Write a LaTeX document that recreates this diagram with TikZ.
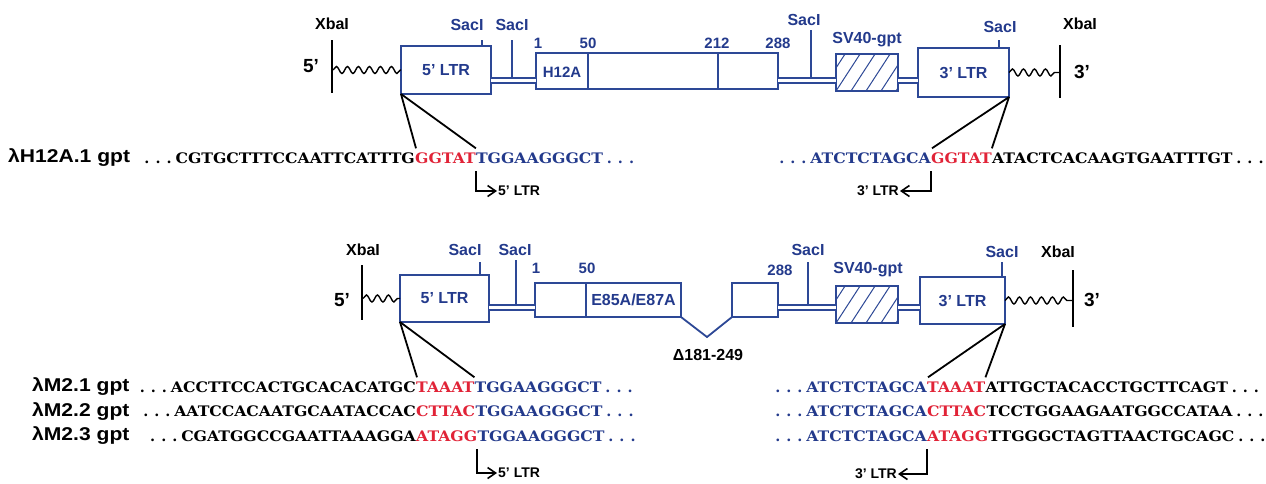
\documentclass[tikz,border=0pt]{standalone}
\usepackage{graphicx}
\usepackage{fontspec}
\setmainfont{Liberation Sans}
\newfontfamily\seqfont{DejaVu Serif}
\usetikzlibrary{calc,decorations.pathmorphing,arrows.meta}
\definecolor{navy}{RGB}{35,58,140}
\definecolor{boxblue}{RGB}{45,72,150}
\definecolor{seqred}{RGB}{225,35,55}
\newcommand{\sqt}[1]{\scalebox{1.08}[1]{#1}}
\newcommand{\rlt}[1]{\scalebox{1.14}[1]{#1}}
\newcommand{\lddots}{.\kern6pt.\kern6pt.\kern3.5pt}
\newcommand{\tddots}{\kern3.5pt.\kern6pt.\kern6pt.}
\begin{document}
\begin{tikzpicture}[x=1pt,y=-1pt,
  lab/.style={font=\bfseries\fontsize{16}{16}\selectfont, text=navy, inner sep=0pt},
  numlab/.style={font=\bfseries\fontsize{15}{15}\selectfont, text=navy, inner sep=0pt},
  endlab/.style={font=\bfseries\fontsize{19}{19}\selectfont, inner sep=0pt},
  rowlab/.style={font=\bfseries\fontsize{18.5}{18.5}\selectfont, inner sep=0pt, anchor=west},
  seq/.style={font=\seqfont\bfseries\fontsize{14.5}{14.5}\selectfont, inner sep=0pt, text height=10.5pt, text depth=0pt},
  cbox/.style={draw=boxblue, line width=1.8pt, fill=white, inner sep=0pt, outer sep=0pt, text=navy, font=\bfseries\fontsize{16}{16}\selectfont},
  boxline/.style={draw=boxblue, line width=1.8pt},
  dbl/.style={draw=boxblue, double=white, double distance=3.4pt, line width=1.4pt},
  sitetick/.style={draw=boxblue, line width=1.5pt},
  barline/.style={draw=black, line width=1.8pt},
  wavy/.style={draw=black, line width=1.4pt, decorate, decoration={snake, segment length=11pt, amplitude=3.5pt}},
  tri/.style={draw=black, line width=1.8pt},
  bent/.style={draw=black, line width=1.8pt, -{Straight Barb[length=8pt,width=11pt,line width=1.6pt]}},
  ltrlab/.style={font=\bfseries\fontsize{14}{14}\selectfont, inner sep=1pt},
  hatch/.style={draw=boxblue, line width=1pt},
]
\fill[white] (0,0) rectangle (1266,483);
\useasboundingbox (0,0) rectangle (1266,483);

% ================= TOP CONSTRUCT =================
\coordinate (da) at (0,80.5);
\node[cbox, minimum width=90pt, minimum height=48pt] (ltr5a) at (446,70) {5' LTR};
\node[cbox, minimum width=242pt, minimum height=36pt] (genea) at (657,71) {};
\node[cbox, minimum width=62pt, minimum height=37pt] (sva) at (867,72.5) {};
\node[cbox, minimum width=91pt, minimum height=49pt] (ltr3a) at (963.5,72.5) {3' LTR};
\begin{scope}
\clip (sva.south west) rectangle (sva.north east);
\foreach \s in {-30,-15,...,75} \draw[hatch] ($(sva.south west)+(\s,0)$) -- ++(26,-40);
\end{scope}
\draw[boxline] (sva.south west) rectangle (sva.north east);
\coordinate (dv1) at (588,0);
\coordinate (dv2) at (718,0);
\draw[boxline] (dv1 |- genea.north) -- (dv1 |- genea.south);
\draw[boxline] (dv2 |- genea.north) -- (dv2 |- genea.south);
\node[numlab] (h12a) at (562,72) {H12A};

\draw[dbl] (ltr5a.east |- da) -- (genea.west |- da);
\draw[dbl] (genea.east |- da) -- (sva.west |- da);
\draw[dbl] (sva.east |- da) -- (ltr3a.west |- da);

\coordinate (t1) at (482,40);
\draw[sitetick] (t1) -- (t1 |- ltr5a.north);
\node[lab] (sac1) at (467,25) {SacI};
\coordinate (t2) at (512,40);
\draw[sitetick] (t2) -- ($(t2 |- da)+(0,-2)$);
\node[lab] (sac2) at (512,25) {SacI};
\coordinate (t3) at (811,30);
\draw[sitetick] (t3) -- ($(t3 |- da)+(0,-2)$);
\node[lab] (sac3) at (804,20) {SacI};
\coordinate (t4) at (999,40);
\draw[sitetick] (t4) -- (t4 |- ltr3a.north);
\node[lab] (sac4) at (1000,27) {SacI};

\node[numlab] (n1a) at (538,43) {1};
\node[numlab] (n50a) at (588,43) {50};
\node[numlab] (n212a) at (717,43) {212};
\node[numlab] (n288a) at (778,43) {288};
\node[lab] (sv40a) at (867,40) {SV40-gpt};

\coordinate (xa1) at (332,40);
\coordinate (xa2) at (332,93);
\draw[barline] (xa1) -- (xa2);
\coordinate (wa1) at (333,70);
\draw[wavy] (wa1) -- (ltr5a.west);
\node[endlab] (p5a) at (311,66) {5'};
\node[lab, text=black] (xbaa1) at (332,24) {XbaI};
\coordinate (xa3) at (1060,45);
\coordinate (xa4) at (1060,98);
\draw[barline] (xa3) -- (xa4);
\coordinate (wa2) at (1059,72.5);
\draw[wavy] (ltr3a.east) -- (wa2);
\node[endlab] (p3a) at (1082,72) {3'};
\node[lab, text=black] (xbaa2) at (1080,24) {XbaI};

% top sequences
\node[rowlab] (lab1) at (8,158) {\rlt{λH12A.1 gpt}};
\node[seq, text=seqred, anchor=base west] (r1) at (415,163) {\sqt{GGTAT}};
\node[seq, anchor=base east] (k1) at (r1.base west) {\sqt{CGTGCTTTCCAATTCATTTG}};
\node[seq, text=navy, anchor=base west] (b1) at (r1.base east) {\sqt{TGGAAGGGCT}};
\node[seq, anchor=base east] (d1) at (k1.base west) {\lddots};
\node[seq, text=navy, anchor=base west] (e1) at (b1.base east) {\tddots};

\node[seq, text=seqred, anchor=base west] (r2) at (931,163) {\sqt{GGTAT}};
\node[seq, text=navy, anchor=base east] (b2) at (r2.base west) {\sqt{ATCTCTAGCA}};
\node[seq, anchor=base west] (k2) at (r2.base east) {\sqt{ATACTCACAAGTGAATTTGT}};
\node[seq, text=navy, anchor=base east] (d2) at (b2.base west) {\lddots};
\node[seq, anchor=base west] (e2) at (k2.base east) {\tddots};

\draw[tri] (ltr5a.south west) -- ($(r1.north west)+(1,-4)$);
\draw[tri] (ltr5a.south west) -- ($(r1.north east)+(0,-4)$);
\draw[tri] (ltr3a.south east) -- ($(r2.north west)+(1,-4)$);
\draw[tri] (ltr3a.south east) -- ($(r2.north east)+(0,-4)$);

\node[ltrlab, anchor=west] (l5a) at (497,191) {5' LTR};
\draw[bent] ($(r1.south east)+(0,8)$) |- (l5a.west);
\node[ltrlab, anchor=east] (l3a) at (900,191) {3' LTR};
\draw[bent] ($(r2.south west)+(0,8)$) |- (l3a.east);

% ================= BOTTOM CONSTRUCT =================
\coordinate (db) at (0,307.5);
\node[cbox, minimum width=89pt, minimum height=47pt] (ltr5b) at (444.5,298.5) {5' LTR};
\node[cbox, minimum width=146pt, minimum height=34pt] (geneb) at (608,300) {};
\node[cbox, minimum width=46pt, minimum height=34pt] (genec) at (755,300) {};
\node[cbox, minimum width=62pt, minimum height=37pt] (svb) at (867,304.5) {};
\node[cbox, minimum width=85pt, minimum height=47pt] (ltr3b) at (962.5,300.5) {3' LTR};
\begin{scope}
\clip (svb.south west) rectangle (svb.north east);
\foreach \s in {-30,-15,...,75} \draw[hatch] ($(svb.south west)+(\s,0)$) -- ++(26,-40);
\end{scope}
\draw[boxline] (svb.south west) rectangle (svb.north east);
\coordinate (dv3) at (586,0);
\draw[boxline] (dv3 |- geneb.north) -- (dv3 |- geneb.south);
\node[lab] (e85) at (633.5,300) {E85A/E87A};
\coordinate (delv) at (707,337);
\draw[boxline, line join=miter] (geneb.south east) -- (delv) -- (genec.south west);
\node[lab, text=black] (dlab) at (708,355) {Δ181-249};

\draw[dbl] (ltr5b.east |- db) -- (geneb.west |- db);
\draw[dbl] (genec.east |- db) -- (svb.west |- db);
\draw[dbl] (svb.east |- db) -- (ltr3b.west |- db);

\coordinate (t5) at (480,262);
\draw[sitetick] (t5) -- (t5 |- ltr5b.north);
\node[lab] (sac5) at (465,250) {SacI};
\coordinate (t6) at (516,260);
\draw[sitetick] (t6) -- ($(t6 |- db)+(0,-2)$);
\node[lab] (sac6) at (515,250) {SacI};
\coordinate (t7) at (808,262);
\draw[sitetick] (t7) -- ($(t7 |- db)+(0,-2)$);
\node[lab] (sac7) at (808,250) {SacI};
\coordinate (t8) at (1002,262);
\draw[sitetick] (t8) -- (t8 |- ltr3b.north);
\node[lab] (sac8) at (1002,252) {SacI};

\node[numlab] (n1b) at (536,268) {1};
\node[numlab] (n50b) at (587,268) {50};
\node[numlab] (n288b) at (780,270) {288};
\node[lab] (sv40b) at (868,270) {SV40-gpt};

\coordinate (xb1) at (362,265);
\coordinate (xb2) at (362,320);
\draw[barline] (xb1) -- (xb2);
\coordinate (wb1) at (363,298.5);
\draw[wavy] (wb1) -- (ltr5b.west);
\node[endlab] (p5b) at (342,300) {5'};
\node[lab, text=black] (xbab1) at (363,250) {XbaI};
\coordinate (xb3) at (1073,270);
\coordinate (xb4) at (1073,327);
\draw[barline] (xb3) -- (xb4);
\coordinate (wb2) at (1072,300.5);
\draw[wavy] (ltr3b.east) -- (wb2);
\node[endlab] (p3b) at (1092,300) {3'};
\node[lab, text=black] (xbab2) at (1058,252) {XbaI};

% bottom sequences, left
\node[rowlab] (lab2) at (32,387) {\rlt{λM2.1 gpt}};
\node[rowlab] (lab3) at (32,411.5) {\rlt{λM2.2 gpt}};
\node[rowlab] (lab4) at (32,436) {\rlt{λM2.3 gpt}};

\node[seq, text=seqred, anchor=base west] (r3) at (416,392) {\sqt{TAAAT}};
\node[seq, anchor=base east] (k3) at (r3.base west) {\sqt{ACCTTCCACTGCACACATGC}};
\node[seq, text=navy, anchor=base west] (b3) at (r3.base east) {\sqt{TGGAAGGGCT}};
\node[seq, anchor=base east] (d3) at (k3.base west) {\lddots};
\node[seq, text=navy, anchor=base west] (e3) at (b3.base east) {\tddots};

\node[seq, text=seqred, anchor=base west] (r4) at (416,416.5) {\sqt{CTTAC}};
\node[seq, anchor=base east] (k4) at (r4.base west) {\sqt{AATCCACAATGCAATACCAC}};
\node[seq, text=navy, anchor=base west] (b4) at (r4.base east) {\sqt{TGGAAGGGCT}};
\node[seq, anchor=base east] (d4) at (k4.base west) {\lddots};
\node[seq, text=navy, anchor=base west] (e4) at (b4.base east) {\tddots};

\node[seq, text=seqred, anchor=base west] (r5) at (416,441) {\sqt{ATAGG}};
\node[seq, anchor=base east] (k5) at (r5.base west) {\sqt{CGATGGCCGAATTAAAGGA}};
\node[seq, text=navy, anchor=base west] (b5) at (r5.base east) {\sqt{TGGAAGGGCT}};
\node[seq, anchor=base east] (d5) at (k5.base west) {\lddots};
\node[seq, text=navy, anchor=base west] (e5) at (b5.base east) {\tddots};

% bottom sequences, right
\node[seq, text=seqred, anchor=base west] (r6) at (927,392) {\sqt{TAAAT}};
\node[seq, text=navy, anchor=base east] (b6) at (r6.base west) {\sqt{ATCTCTAGCA}};
\node[seq, anchor=base west] (k6) at (r6.base east) {\sqt{ATTGCTACACCTGCTTCAGT}};
\node[seq, text=navy, anchor=base east] (d6) at (b6.base west) {\lddots};
\node[seq, anchor=base west] (e6) at (k6.base east) {\tddots};

\node[seq, text=seqred, anchor=base west] (r7) at (927,416.5) {\sqt{CTTAC}};
\node[seq, text=navy, anchor=base east] (b7) at (r7.base west) {\sqt{ATCTCTAGCA}};
\node[seq, anchor=base west] (k7) at (r7.base east) {\sqt{TCCTGGAAGAATGGCCATAA}};
\node[seq, text=navy, anchor=base east] (d7) at (b7.base west) {\lddots};
\node[seq, anchor=base west] (e7) at (k7.base east) {\tddots};

\node[seq, text=seqred, anchor=base west] (r8) at (927,441) {\sqt{ATAGG}};
\node[seq, text=navy, anchor=base east] (b8) at (r8.base west) {\sqt{ATCTCTAGCA}};
\node[seq, anchor=base west] (k8) at (r8.base east) {\sqt{TTGGGCTAGTTAACTGCAGC}};
\node[seq, text=navy, anchor=base east] (d8) at (b8.base west) {\lddots};
\node[seq, anchor=base west] (e8) at (k8.base east) {\tddots};

\draw[tri] (ltr5b.south west) -- ($(r3.north west)+(1,-4)$);
\draw[tri] (ltr5b.south west) -- ($(r3.north east)+(0,-4)$);
\draw[tri] (ltr3b.south east) -- ($(r6.north west)+(1,-4)$);
\draw[tri] (ltr3b.south east) -- ($(r6.north east)+(0,-4)$);

\node[ltrlab, anchor=west] (l5b) at (497,473) {5' LTR};
\draw[bent] ($(r5.south east)+(0,8)$) |- (l5b.west);
\node[ltrlab, anchor=east] (l3b) at (898,474) {3' LTR};
\draw[bent] ($(r8.south west)+(0,8)$) |- (l3b.east);
\end{tikzpicture}
\end{document}
